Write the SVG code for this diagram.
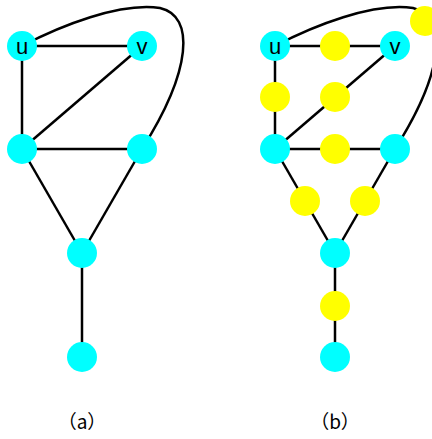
<svg xmlns="http://www.w3.org/2000/svg" width="432" height="439" viewBox="0 0 432 439">
<style>
.e{stroke:#000;stroke-width:2.5;fill:none}
.c{fill:#00FFFF}
.y{fill:#FFFF00}
.t{font-family:"Liberation Sans",Arial,sans-serif;font-size:22px;fill:#000;text-anchor:middle}
.l{font-family:"Noto Sans CJK SC","Liberation Sans",sans-serif;font-size:19px;fill:#000;text-anchor:middle}
</style>
<rect width="432" height="439" fill="#fff"/>
<g id="connectors">
<line class="e" x1="22" y1="46" x2="142" y2="46"/>
<line class="e" x1="22" y1="46" x2="22" y2="149"/>
<line class="e" x1="142" y1="46" x2="22" y2="149"/>
<line class="e" x1="22" y1="149" x2="142" y2="149"/>
<line class="e" x1="22" y1="149" x2="82" y2="253"/>
<line class="e" x1="142" y1="149" x2="82" y2="253"/>
<line class="e" x1="82" y1="253" x2="82" y2="357"/>
<path class="e" d="M22,46 C60,26 120,2 160,8 C195,16 192,70 142,149"/>
<line class="e" x1="275" y1="46" x2="395" y2="46"/>
<line class="e" x1="275" y1="46" x2="275" y2="149"/>
<line class="e" x1="395" y1="46" x2="275" y2="149"/>
<line class="e" x1="275" y1="149" x2="395" y2="149"/>
<line class="e" x1="275" y1="149" x2="335" y2="253"/>
<line class="e" x1="395" y1="149" x2="335" y2="253"/>
<line class="e" x1="335" y1="253" x2="335" y2="357"/>
<path class="e" d="M275,46 C313,26 373,2 413,8 C448,16 445,70 395,149"/>
</g>
<g id="a_u"><circle class="c" cx="22" cy="46" r="15"/><text class="t" x="22" y="54">u</text></g>
<g id="a_v"><circle class="c" cx="142" cy="46" r="15"/><text class="t" x="142" y="54">v</text></g>
<g id="a_n3"><circle class="c" cx="22" cy="149" r="15"/></g>
<g id="a_n4"><circle class="c" cx="142" cy="149" r="15"/></g>
<g id="a_n5"><circle class="c" cx="82" cy="253" r="15"/></g>
<g id="a_n6"><circle class="c" cx="82" cy="357" r="15"/></g>
<g id="b_u"><circle class="c" cx="275" cy="46" r="15"/><text class="t" x="275" y="54">u</text></g>
<g id="b_v"><circle class="c" cx="395" cy="46" r="15"/><text class="t" x="395" y="54">v</text></g>
<g id="b_n3"><circle class="c" cx="275" cy="149" r="15"/></g>
<g id="b_n4"><circle class="c" cx="395" cy="149" r="15"/></g>
<g id="b_n5"><circle class="c" cx="335" cy="253" r="15"/></g>
<g id="b_n6"><circle class="c" cx="335" cy="357" r="15"/></g>
<g id="b_y1"><circle class="y" cx="335" cy="46" r="15"/></g>
<g id="b_y2"><circle class="y" cx="275" cy="97" r="15"/></g>
<g id="b_y3"><circle class="y" cx="335" cy="97" r="15"/></g>
<g id="b_y4"><circle class="y" cx="335" cy="149" r="15"/></g>
<g id="b_y5"><circle class="y" cx="305" cy="201" r="15"/></g>
<g id="b_y6"><circle class="y" cx="365" cy="201" r="15"/></g>
<g id="b_y7"><circle class="y" cx="335" cy="306" r="15"/></g>
<g id="b_y8"><circle class="y" cx="425" cy="21" r="15"/></g>
<g id="label_a"><text class="l" x="82" y="429">（a）</text></g>
<g id="label_b"><text class="l" x="335" y="429">（b）</text></g>
</svg>
